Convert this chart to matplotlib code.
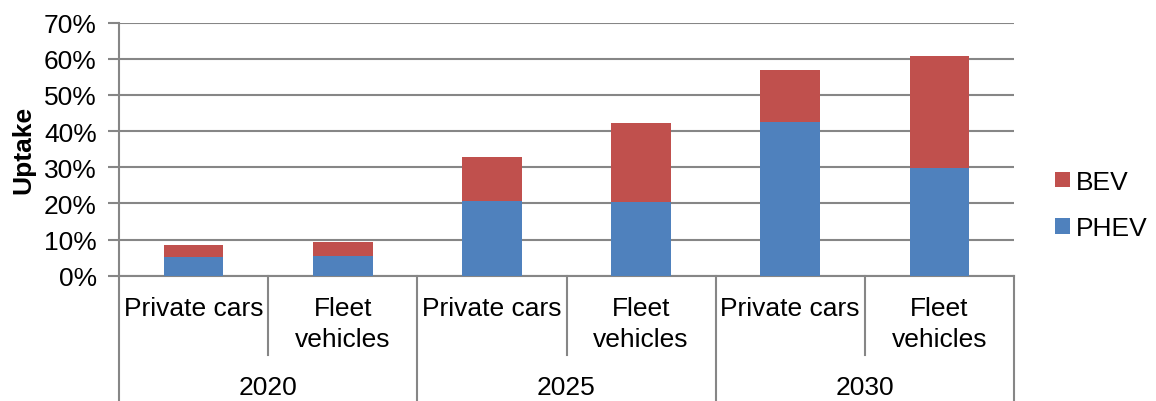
import matplotlib
matplotlib.use("Agg")
import matplotlib.pyplot as plt
from matplotlib.lines import Line2D
from matplotlib.patches import Patch
import matplotlib.transforms as mtransforms
import numpy as np

plt.rcParams['font.family'] = ['Liberation Sans', 'DejaVu Sans']

years = ["2020", "2025", "2030"]
categories = ["Private cars", "Fleet\nvehicles"] * 3
phev = [5.2, 5.4, 20.6, 20.3, 42.4, 29.8]
bev_total = [8.4, 9.2, 32.8, 42.3, 56.9, 60.8]
bev = [t - p for t, p in zip(bev_total, phev)]
yticks = [0, 10, 20, 30, 40, 50, 60, 70]

BLUE = "#4F81BD"
RED = "#C0504D"
GRID = "#868686"
FS = 19

fig = plt.figure(figsize=(11.56, 4.02), dpi=100)
ax = fig.add_axes([119/1156, 1 - 276.7/402, (1014-119)/1156, (276.7-23.7)/402])

x = np.arange(len(categories))
ax.bar(x, phev, width=0.4, color=BLUE, zorder=3, label="PHEV")
ax.bar(x, bev, bottom=phev, width=0.4, color=RED, zorder=3, label="BEV")

ax.set_xlim(-0.5, len(categories) - 0.5)
ax.set_ylim(0, 70)
ax.set_yticks(yticks)
ax.set_yticklabels([f"{v}%" for v in yticks], fontsize=FS)
ax.yaxis.grid(True, color=GRID, linewidth=1.5, zorder=0)
ax.tick_params(axis='y', length=8, width=1.5, color=GRID, pad=8)
ax.set_xticks([])
for s in ["top", "right"]:
    ax.spines[s].set_visible(False)
ax.spines["left"].set_color(GRID)
ax.spines["left"].set_linewidth(1.5)
ax.spines["bottom"].set_color(GRID)
ax.spines["bottom"].set_linewidth(1.5)
ax.set_ylabel("Uptake", fontsize=FS, fontweight="bold", labelpad=6)

# category axis
trans = mtransforms.blended_transform_factory(ax.transData, fig.transFigure)
y0 = 1 - 276.7/402
y_inner = 1 - 356/402
for i in range(len(categories) + 1):
    xs = i - 0.5
    if i % 2 == 0:
        yb = 0.0
    else:
        yb = y_inner
    fig.add_artist(Line2D([xs, xs], [y0, yb], transform=trans, color=GRID, linewidth=1.5))

for i, c in enumerate(categories):
    fig.text(i, 1 - 297/402, c, transform=trans, ha="center", va="top",
             fontsize=FS, linespacing=1.38)
for j, yr in enumerate(years):
    fig.text(2*j + 0.5, 1 - 388/402, yr, transform=trans, ha="center", va="center",
             fontsize=FS)

handles = [Patch(facecolor=RED, label="BEV"), Patch(facecolor=BLUE, label="PHEV")]
fig.legend(handles=handles, loc="center left", bbox_to_anchor=(1055/1156, 1 - 206/402),
           frameon=False, fontsize=FS, handlelength=0.55, handleheight=0.55,
           handletextpad=0.25, labelspacing=0.85, borderpad=0, borderaxespad=0)

fig.savefig("out.png", dpi=100)
